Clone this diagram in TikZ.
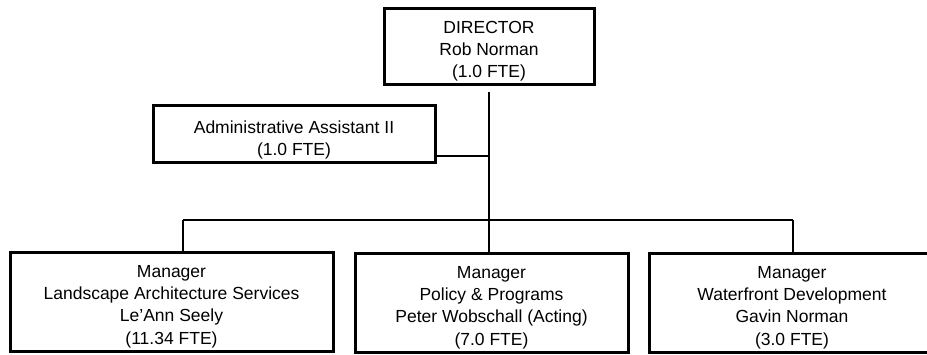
\documentclass[tikz,border=0pt]{standalone}
\usepackage{fontspec}
\setmainfont{Liberation Sans}
\usetikzlibrary{calc}
\tikzset{
  orgbox/.style={draw, line width=3pt, inner sep=0pt},
  orgtext/.style={inner sep=0pt, align=center,
    font=\fontsize{17.5}{22.3}\selectfont},
  link/.style={line width=2pt}
}
\begin{document}
\begin{tikzpicture}[x=1pt, y=-1pt]
  \useasboundingbox (0,0) rectangle (927,354);

  % director and assistant
  \node[orgbox, minimum width=210pt, minimum height=76pt] (dir) at (489,46) {};
  \node[orgtext] (dirt) at ([yshift=-5pt]dir.center)
    {DIRECTOR\\Rob Norman\\(1.0 FTE)};
  \node[orgbox, minimum width=282pt, minimum height=57pt] (adm) at (294,133.5) {};
  \node[orgtext] (admt) at ([yshift=-6.5pt]adm.center)
    {Administrative Assistant II\\(1.0 FTE)};

  % managers
  \node[orgbox, minimum width=323pt, minimum height=99pt] (lan) at (171.5,301.5) {};
  \node[orgtext] (lant) at ([yshift=-5pt]lan.center)
    {Manager\\Landscape Architecture Services\\Le’Ann Seely\\(11.34 FTE)};
  \node[orgbox, minimum width=273pt, minimum height=99pt] (pol) at (491.5,302.5) {};
  \node[orgtext] (polt) at ([yshift=-5pt]pol.center)
    {Manager\\Policy \& Programs\\Peter Wobschall (Acting)\\(7.0 FTE)};
  \node[orgbox, minimum width=290pt, minimum height=99pt, anchor=west] (wat) at (648,302.5) {};
  \node[orgtext] (watt) at (792,307.5)
    {Manager\\Waterfront Development\\Gavin Norman\\(3.0 FTE)};

  % junction points
  \coordinate (top) at (489,92);
  \coordinate (aj) at (489,156);
  \coordinate (bus) at (489,220);
  \coordinate (bl) at (183,220);
  \coordinate (br) at (793,220);

  % connectors
  \draw[link] (top) -- (bus);
  \draw[link] (adm.east |- aj) -- (aj);
  \draw[link] (bl) -- (br);
  \draw[link] (bl) -- (bl |- lan.north);
  \draw[link] (bus) -- (bus |- pol.north);
  \draw[link] (br) -- (br |- wat.north);
\end{tikzpicture}
\end{document}
